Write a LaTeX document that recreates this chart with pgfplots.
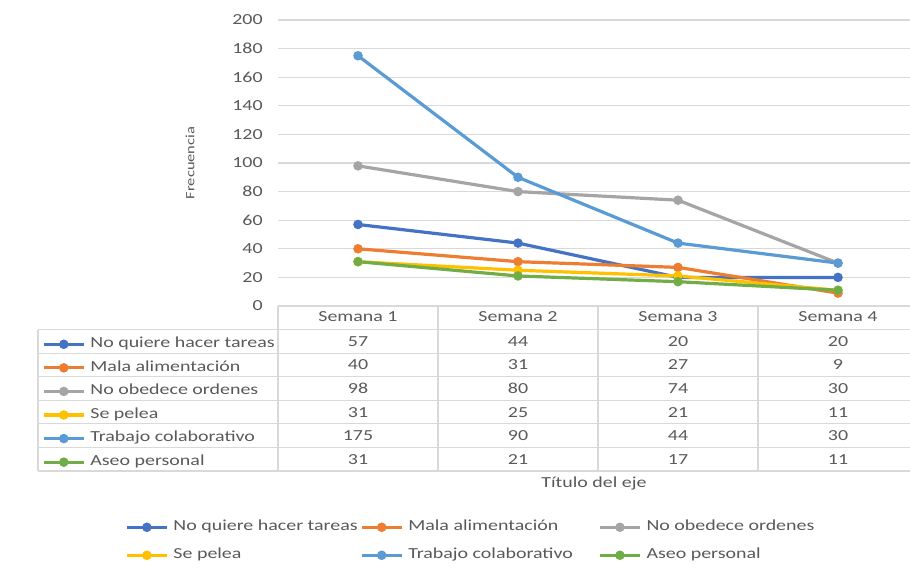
\documentclass[border=0pt]{standalone}
\usepackage{fontspec}
\setmainfont{Carlito}[FakeStretch=1.3]
\usepackage{pgfplots}
\usepackage{pgfplotstable}
\pgfplotsset{compat=1.18}
\definecolor{c1}{HTML}{4472C4}
\definecolor{c2}{HTML}{ED7D31}
\definecolor{c3}{HTML}{A5A5A5}
\definecolor{c4}{HTML}{FFC000}
\definecolor{c5}{HTML}{5B9BD5}
\definecolor{c6}{HTML}{70AD47}
\definecolor{txt}{HTML}{595959}
\definecolor{gridc}{HTML}{D9D9D9}

\pgfplotstableread{
week tareas mala obedece pelea trabajo aseo
0 57 40 98 31 175 31
1 44 31 80 25 90 21
2 20 27 74 21 44 17
3 20 9 30 11 30 11
}\data

\newcommand\tfont{\fontsize{11.5}{12}\selectfont}
\pgfplotsset{
  ser/.style={line width=2.4pt, mark=*, mark size=2.3pt},
  legend image code/.code={\draw[mark repeat=2,mark phase=2] plot coordinates {(0pt,0pt)(15pt,0pt)(30pt,0pt)};},
}

\begin{document}
\begin{tikzpicture}
\useasboundingbox (0,0) rectangle (682.5pt,426pt);
% ---------- main chart ----------
\begin{axis}[
  at={(208.5pt,196.5pt)}, anchor=south west,
  scale only axis, width=474pt, height=214.5pt,
  xmin=-0.5, xmax=3.45, ymin=0, ymax=200,
  ytick={0,20,...,200},
  xtick={0,1,2,3}, xticklabels={Semana 1,Semana 2,Semana 3,Semana 4},
  axis line style={draw=none}, tick style={draw=none},
  ymajorgrids, grid style={gridc, line width=0.8pt},
  /pgf/number format/assume math mode=true,
  ticklabel style={font=\tfont, text=txt},
  yticklabel style={xshift=-8pt},
  xticklabel style={yshift=-1pt},
  ylabel={Frecuencia},
  ylabel style={at={(axis description cs:-0.139,0.5)}, anchor=center, font=\fontsize{9.5}{10}\selectfont, text=txt},
  clip=false,
  legend columns=3,
  legend cell align=left,
  legend style={at={(axis description cs:-0.2421,-0.7518)}, anchor=north west,
    draw=none, fill=none, inner sep=0pt, row sep=12pt,
    nodes={inner ysep=0pt, inner xsep=0pt, text height=7pt, text depth=2pt, font=\tfont, text=txt},
    /tikz/every odd column/.append style={column sep=3.75pt}},
]
\addplot[c1, ser] table[x=week, y=tareas]{\data};
\addlegendentry{\makebox[140pt][l]{No quiere hacer tareas}}
\addplot[c2, ser] table[x=week, y=mala]{\data};
\addlegendentry{\makebox[142.5pt][l]{Mala alimentación}}
\addplot[c3, ser] table[x=week, y=obedece]{\data};
\addlegendentry{\makebox[142.5pt][l]{No obedece ordenes}}
\addplot[c4, ser] table[x=week, y=pelea]{\data};
\addlegendentry{\makebox[140pt][l]{Se pelea}}
\addplot[c5, ser] table[x=week, y=trabajo]{\data};
\addlegendentry{\makebox[142.5pt][l]{Trabajo colaborativo}}
\addplot[c6, ser] table[x=week, y=aseo]{\data};
\addlegendentry{\makebox[142.5pt][l]{Aseo personal}}
\end{axis}

% ---------- data table ----------
\begin{axis}[
  at={(208.5pt,72.75pt)}, anchor=south west,
  scale only axis, width=474pt, height=123.75pt,
  xmin=-0.5, xmax=3.45, ymin=-0.5, ymax=6.5, y dir=reverse,
  axis line style={draw=none}, xtick=\empty, ytick=\empty,
  clip=false,
  xlabel={Título del eje},
  xlabel style={at={(axis description cs:0.5,-0.073)}, anchor=center, font=\tfont, text=txt},
  nodes near coords style={anchor=center, font=\tfont, text=txt},
  legend cell align=left,
  legend style={at={(axis description cs:-0.3735,0.806)}, anchor=north west,
    draw=none, fill=none, inner sep=0pt, row sep=8.68pt,
    nodes={inner ysep=0pt, inner xsep=0pt, text height=7pt, text depth=2pt, font=\tfont, text=txt},
    /tikz/every odd column/.append style={column sep=3.75pt}},
]
\foreach \yy in {0.5,1.5,...,6.5} {\edef\tmp{\noexpand\draw[gridc, line width=0.8pt] (axis cs:-2,\yy) -- (axis cs:3.45,\yy);}\tmp}
\foreach \xx in {-0.5,0.5,1.5,2.5} {\edef\tmp{\noexpand\draw[gridc, line width=0.8pt] (axis cs:\xx,-0.5) -- (axis cs:\xx,6.5);}\tmp}
\draw[gridc, line width=0.8pt] (axis cs:-2,0.5) -- (axis cs:-2,6.5);
\addplot[draw=none, mark=none, forget plot, nodes near coords, point meta=explicit symbolic] table[x=week, y expr=1, meta=tareas]{\data};
\addplot[draw=none, mark=none, forget plot, nodes near coords, point meta=explicit symbolic] table[x=week, y expr=2, meta=mala]{\data};
\addplot[draw=none, mark=none, forget plot, nodes near coords, point meta=explicit symbolic] table[x=week, y expr=3, meta=obedece]{\data};
\addplot[draw=none, mark=none, forget plot, nodes near coords, point meta=explicit symbolic] table[x=week, y expr=4, meta=pelea]{\data};
\addplot[draw=none, mark=none, forget plot, nodes near coords, point meta=explicit symbolic] table[x=week, y expr=5, meta=trabajo]{\data};
\addplot[draw=none, mark=none, forget plot, nodes near coords, point meta=explicit symbolic] table[x=week, y expr=6, meta=aseo]{\data};
\addlegendimage{c1, ser}\addlegendentry{No quiere hacer tareas}
\addlegendimage{c2, ser}\addlegendentry{Mala alimentación}
\addlegendimage{c3, ser}\addlegendentry{No obedece ordenes}
\addlegendimage{c4, ser}\addlegendentry{Se pelea}
\addlegendimage{c5, ser}\addlegendentry{Trabajo colaborativo}
\addlegendimage{c6, ser}\addlegendentry{Aseo personal}
\end{axis}
\end{tikzpicture}
\end{document}
